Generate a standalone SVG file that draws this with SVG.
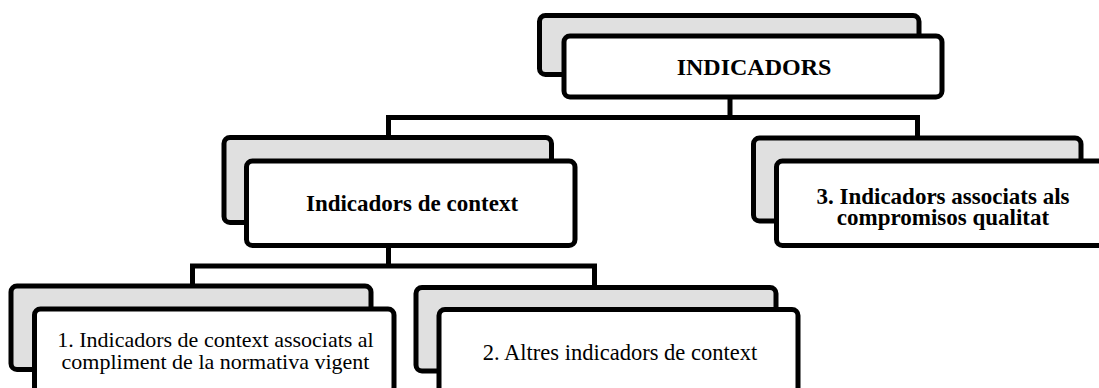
<svg xmlns="http://www.w3.org/2000/svg" width="1099" height="388" viewBox="0 0 1099 388">
<style>
.back{fill:#e0e0e0;stroke:#000;stroke-width:5}
.front{fill:#fff;stroke:#000;stroke-width:5}
.conn{fill:none;stroke:#000;stroke-width:5;stroke-linejoin:miter;stroke-linecap:butt}
.b{font-family:"Liberation Serif","Times New Roman",serif;font-weight:bold;fill:#000;text-anchor:middle}
.r{font-family:"Liberation Serif","Times New Roman",serif;fill:#000;text-anchor:middle}
</style>
<rect width="1099" height="388" fill="#fff"/>
<g id="connectors">
<path class="conn" d="M730 97 V117.5 M388.5 139 V117.5 H917.5 V139"/>
<path class="conn" d="M388.5 246 V266 M192.5 287 V266 H594.5 V288"/>
</g>
<g id="node-indicadors">
<rect class="back" x="539.5" y="15.5" width="379.5" height="59" rx="6"/>
<rect class="front" x="564" y="36" width="378" height="61" rx="6"/>
<text class="b" x="754" y="75" font-size="24">INDICADORS</text>
</g>
<g id="node-context">
<rect class="back" x="224" y="137.5" width="327.5" height="85" rx="6"/>
<rect class="front" x="246.5" y="161" width="328.5" height="84.5" rx="6"/>
<text class="b" x="412" y="211" font-size="23">Indicadors de context</text>
</g>
<g id="node-3">
<rect class="back" x="753.5" y="138" width="327.5" height="83" rx="6"/>
<rect class="front" x="776.5" y="161" width="327.5" height="84.5" rx="6"/>
<text class="b" x="943" y="203.5" font-size="23">3. Indicadors associats als</text>
<text class="b" x="943" y="225" font-size="23">compromisos qualitat</text>
</g>
<g id="node-1">
<rect class="back" x="11" y="286" width="360" height="83.5" rx="6"/>
<rect class="front" x="34.5" y="309" width="359.5" height="84" rx="6"/>
<text class="r" x="215.5" y="347" font-size="22">1. Indicadors de context associats al</text>
<text class="r" x="215.5" y="368.5" font-size="22">compliment de la normativa vigent</text>
</g>
<g id="node-2">
<rect class="back" x="416" y="287.5" width="360" height="83.5" rx="6"/>
<rect class="front" x="439" y="309.5" width="359" height="84" rx="6"/>
<text class="r" x="620" y="360" font-size="22.5">2. Altres indicadors de context</text>
</g>
</svg>
